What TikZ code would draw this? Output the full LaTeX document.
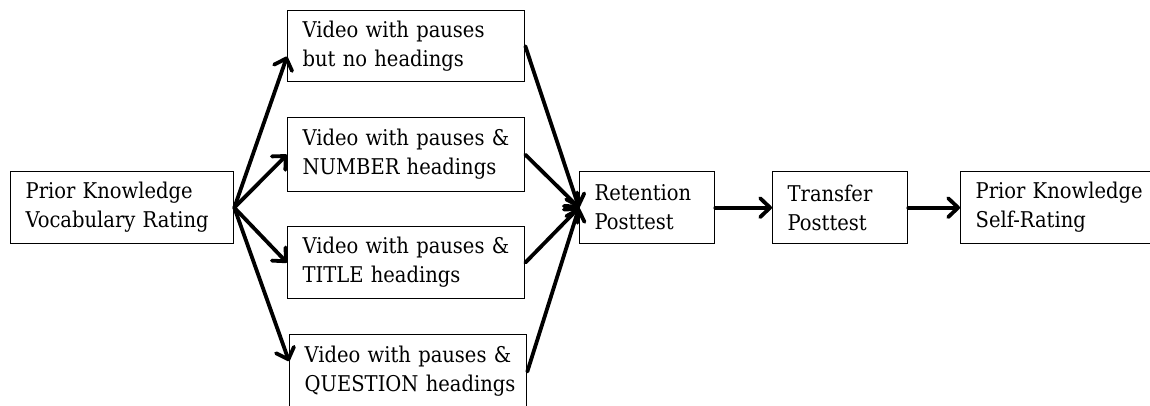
\documentclass[tikz,border=0pt]{standalone}
\usepackage{fontspec}
\setmainfont{DejaVu Serif Condensed}
\usetikzlibrary{arrows.meta}
\hyphenpenalty=10000 \exhyphenpenalty=10000 \relax
\hbadness=10000 \hfuzz=50pt \relax
\tikzset{
  stagebox/.style={draw, line width=1.3pt, anchor=north west, inner xsep=15pt, inner ysep=0pt,
    align=left, font=\fontsize{21.7}{29}\selectfont},
  flowarrow/.style={line width=3.8pt, line cap=round,
    -{Straight Barb[length=10pt,width=19pt,line width=3.8pt,line cap=round,line join=round]}},
}
\begin{document}
\begin{tikzpicture}[x=1pt,y=1pt]
\useasboundingbox (0,0) rectangle (1150,-406);
\node[stagebox, text width=193pt, minimum height=72pt] (pk) at (10,-171) {\mbox{Prior Knowledge}\\\mbox{Vocabulary Rating}};
\node[stagebox, text width=207pt, minimum height=71pt] (v1) at (287,-10) {\mbox{Video with pauses}\\\mbox{but no headings}};
\node[stagebox, text width=207pt, minimum height=74pt] (v2) at (287,-117) {\mbox{Video with pauses \&}\\\mbox{NUMBER headings}};
\node[stagebox, text width=207pt, minimum height=72pt] (v3) at (287,-226) {\mbox{Video with pauses \&}\\\mbox{TITLE headings}};
\node[stagebox, text width=207pt, minimum height=74pt] (v4) at (289,-334) {\mbox{Video with pauses \&}\\\mbox{QUESTION headings}};
\node[stagebox, text width=105pt, minimum height=72pt] (rt) at (579,-171) {Retention\\Posttest};
\node[stagebox, text width=105pt, minimum height=72pt] (tr) at (772,-171) {Transfer\\Posttest};
\node[stagebox, text width=190pt, minimum height=72pt] (sr) at (960,-171) {\mbox{Prior Knowledge}\\\mbox{Self-Rating}};
\draw[flowarrow] (pk.east) -- (v1.185);
\draw[flowarrow] (pk.east) -- (v2.west);
\draw[flowarrow] (pk.east) -- (v3.west);
\draw[flowarrow] (pk.east) -- (v4.175);
\draw[flowarrow] (v1.east) -- (rt.west);
\draw[flowarrow] (v2.east) -- (rt.west);
\draw[flowarrow] (v3.east) -- (rt.west);
\draw[flowarrow] (v4.east) -- (rt.west);
\draw[flowarrow] (rt.east) -- (tr.west);
\draw[flowarrow] (tr.east) -- (sr.west);
\end{tikzpicture}
\end{document}
